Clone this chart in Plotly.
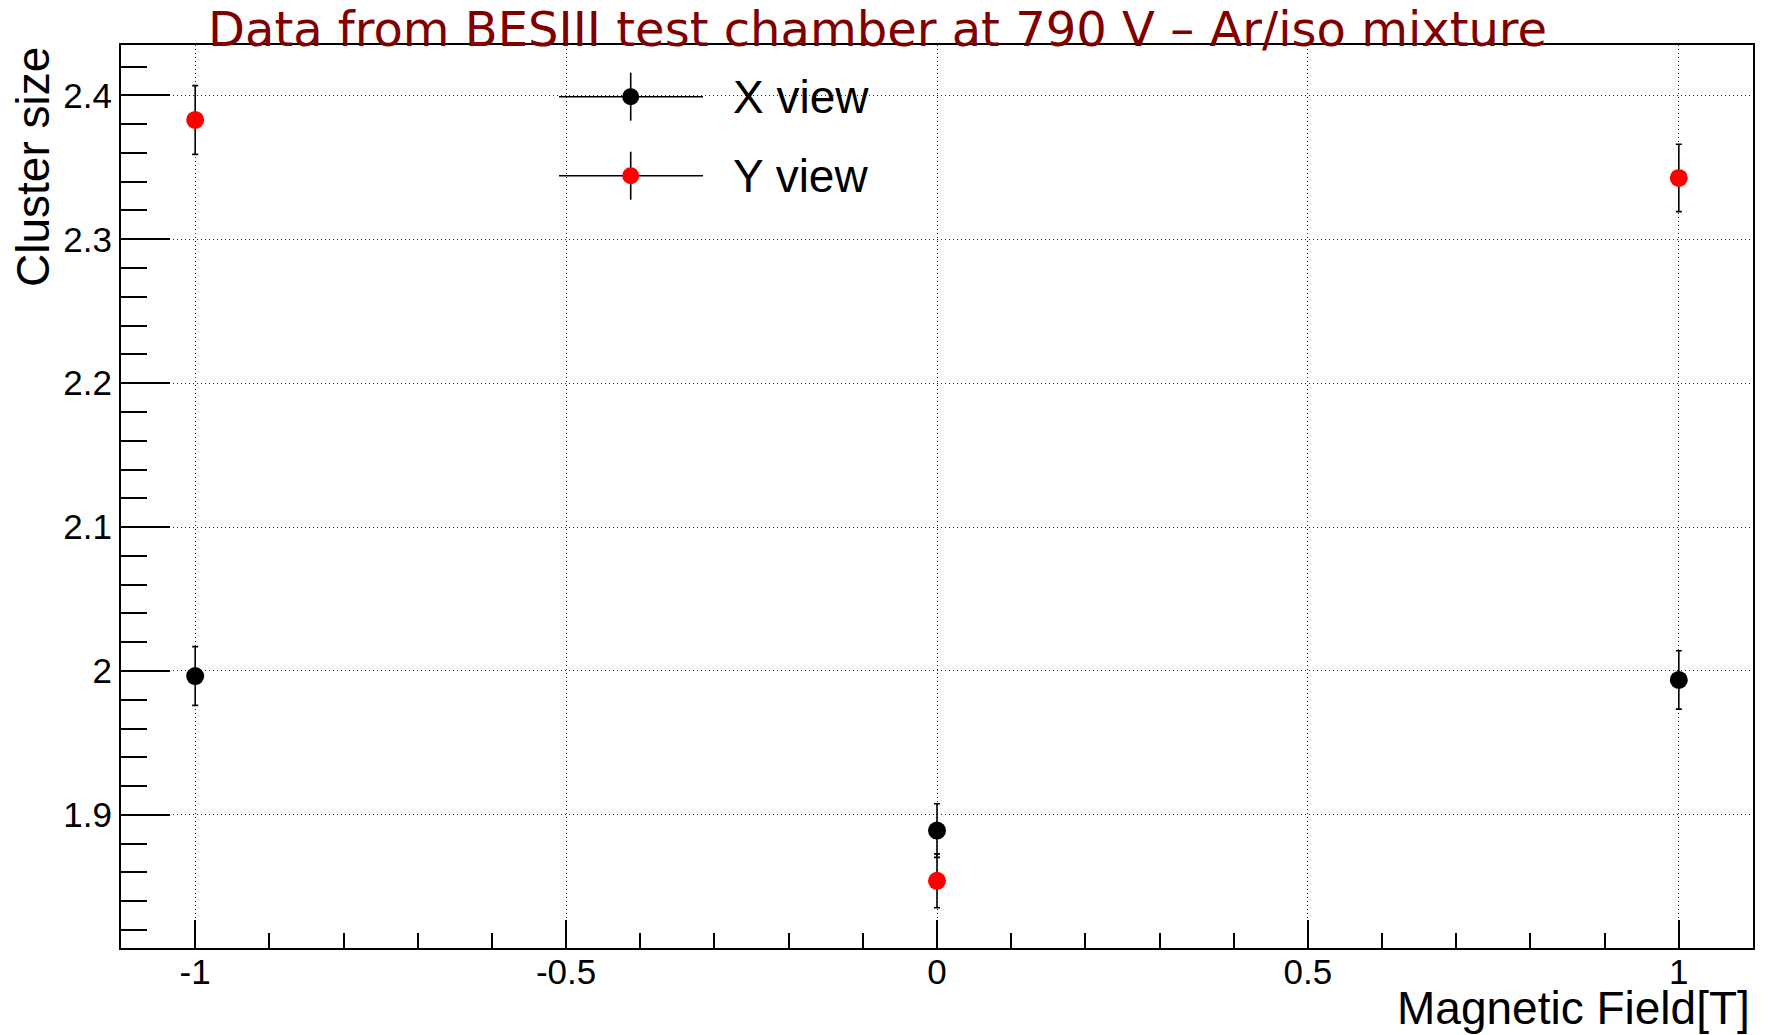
import plotly.graph_objects as go

# Magnetic field settings (T)
field = [-1, 0, 1]

# Mean cluster size per readout view with statistical errors
x_view = [1.9965, 1.8891, 1.9938]
x_view_err = [0.0204, 0.0186, 0.0203]
y_view = [2.3829, 1.8542, 2.3426]
y_view_err = [0.0239, 0.0187, 0.0234]

x_tick_vals = [-1, -0.5, 0, 0.5, 1]
x_tick_text = ["-1", "-0.5", "0", "0.5", "1"]
y_tick_vals = [1.9, 2.0, 2.1, 2.2, 2.3, 2.4]
y_tick_text = ["1.9", "2", "2.1", "2.2", "2.3", "2.4"]

title_text = "Data from BESIII test chamber at 790 V \u2013 Ar/iso mixture"
x_title = "Magnetic Field[T]"
y_title = "Cluster size"

# Canvas geometry (pixels)
W, H = 1769, 1035
ML, MR, MT, MB = 121, 16, 45, 87
PW, PH = W - ML - MR, H - MT - MB


def px(x):
    return (x - ML) / PW


def py(y):
    return (H - MB - y) / PH


SANS = "Liberation Sans, Arial, Helvetica, sans-serif"

series = [
    ("X view", x_view, x_view_err, "black", 96.7),
    ("Y view", y_view, y_view_err, "#ff0000", 175.7),
]

fig = go.Figure()
shapes = []
annotations = []

for name, vals, errs, color, leg_y in series:
    fig.add_trace(go.Scatter(
        x=field, y=vals, mode="markers", name=name, showlegend=False,
        marker=dict(color=color, size=18, symbol="circle", line=dict(width=0)),
        error_y=dict(type="data", array=errs, visible=True,
                     color="black", thickness=1.6, width=3),
    ))
    # ROOT-style legend entry: line, error bar, marker, label
    shapes.append(dict(type="line", xref="paper", yref="paper",
                       x0=px(559), x1=px(703), y0=py(leg_y), y1=py(leg_y),
                       line=dict(color="black", width=1.6)))
    shapes.append(dict(type="line", xref="paper", yref="paper",
                       x0=px(630.7), x1=px(630.7),
                       y0=py(leg_y - 24), y1=py(leg_y + 24),
                       line=dict(color="black", width=1.6)))
    shapes.append(dict(type="circle", xref="paper", yref="paper",
                       xsizemode="pixel", ysizemode="pixel",
                       xanchor=px(630.7), yanchor=py(leg_y),
                       x0=-8.5, x1=8.5, y0=-8.5, y1=8.5,
                       fillcolor=color, line=dict(width=0)))
    annotations.append(dict(text=name, xref="paper", yref="paper",
                            x=px(731), y=py(leg_y), xanchor="left",
                            yanchor="middle", showarrow=False,
                            font=dict(family=SANS, size=46, color="black")))

annotations.append(dict(text=title_text, xref="paper", yref="paper",
                        x=px(877), y=py(29), xanchor="center", yanchor="middle",
                        showarrow=False,
                        font=dict(family="DejaVu Sans", size=48, color="#800000")))
annotations.append(dict(text=x_title, xref="paper", yref="paper",
                        x=px(1752), y=py(1008), xanchor="right", yanchor="middle",
                        showarrow=False,
                        font=dict(family=SANS, size=46, color="black")))
annotations.append(dict(text=y_title, xref="paper", yref="paper",
                        x=px(33), y=1, xanchor="center", yanchor="top",
                        textangle=-90, showarrow=False,
                        font=dict(family=SANS, size=46, color="black")))

grid_style = dict(showgrid=True, gridcolor="#222222", gridwidth=1, griddash="1px,3px")

fig.update_xaxes(
    range=[-1.1, 1.1], tickmode="array", tickvals=x_tick_vals, ticktext=x_tick_text,
    ticks="inside", ticklen=28, tickwidth=1.6, tickcolor="black",
    minor=dict(ticks="inside", ticklen=15, tickwidth=1.6, tickcolor="black",
               tickmode="linear", tick0=0, dtick=0.1, showgrid=False),
    showline=True, linecolor="black", linewidth=2, mirror=True, zeroline=False,
    tickfont=dict(family=SANS, size=35, color="black"),
    ticklabelstandoff=-8,
    **grid_style,
)
fig.update_yaxes(
    range=[1.8075, 2.435], tickmode="array", tickvals=y_tick_vals, ticktext=y_tick_text,
    ticks="inside", ticklen=49, tickwidth=1.6, tickcolor="black",
    minor=dict(ticks="inside", ticklen=26, tickwidth=1.6, tickcolor="black",
               tickmode="linear", tick0=0, dtick=0.02, showgrid=False),
    showline=True, linecolor="black", linewidth=2, mirror=True, zeroline=False,
    tickfont=dict(family=SANS, size=35, color="black"),
    **grid_style,
)

fig.update_layout(
    width=W, height=H,
    margin=dict(l=ML, r=MR, t=MT, b=MB, pad=0),
    paper_bgcolor="white", plot_bgcolor="white",
    shapes=shapes, annotations=annotations,
    showlegend=False,
)

fig.write_html("out.html")
